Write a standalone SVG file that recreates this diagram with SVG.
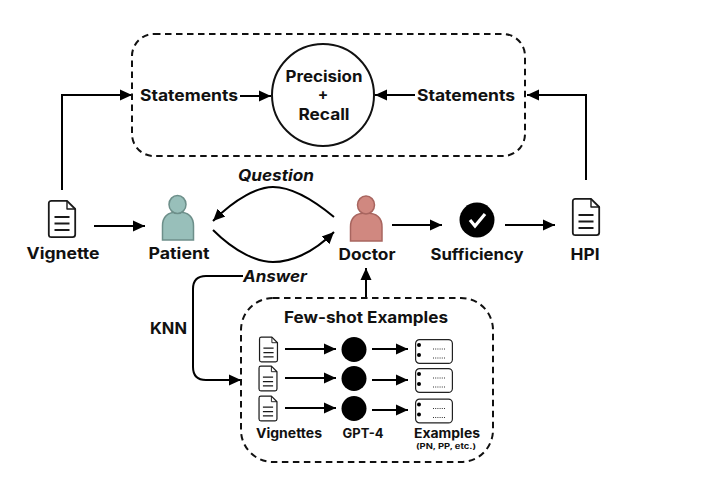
<svg xmlns="http://www.w3.org/2000/svg" width="703" height="477" viewBox="0 0 703 477">
<style>
text{font-family:"Inter","Noto Sans","Liberation Sans",sans-serif;font-weight:700;fill:#111;text-anchor:middle}
.l{font-size:15.500px}.i{font-style:italic;font-size:15.500px}.s{font-size:13px}
.c{fill:none;stroke:#000;stroke-width:2;}
.a{marker-end:url(#ah)}
.dash{fill:none;stroke:#111;stroke-width:2;stroke-dasharray:6.5 4.5}
.t{fill:#fff;stroke:#222;stroke-width:1.2}
.dot{stroke:#333;stroke-width:1;stroke-dasharray:1 1.2;fill:none}
</style>
<defs>
<marker id="ah" markerUnits="userSpaceOnUse" markerWidth="13" markerHeight="14" refX="12" refY="7" orient="auto"><path d="M0 1.500 L12 7 L0 12.500 Z" fill="#000"/></marker>
<symbol id="doc" viewBox="0 0 28 38" overflow="visible">
<path d="M3.500 .8 H19 L27.2 9 V34.5 Q27.2 37.2 24.500 37.2 H3.500 Q.8 37.2 .8 34.5 V3.500 Q.8 .8 3.500 .8 Z" fill="#fff" stroke="#1a1a1a" stroke-width="1.800" stroke-linejoin="round"/>
<path d="M19 .8 V9 H27.2" fill="none" stroke="#1a1a1a" stroke-width="1.400" stroke-linejoin="round"/>
<path d="M6.500 17 H21.500 M6.500 23.500 H21.500 M6.500 30 H21.500" stroke="#1a1a1a" stroke-width="1.800"/>
</symbol>
<symbol id="ex" viewBox="0 0 38 25" overflow="visible">
<rect x=".6" y=".6" width="36.8" height="23.8" rx="4" class="t"/>
<circle cx="4" cy="6" r="2" fill="#000"/><circle cx="4" cy="16" r="2" fill="#000"/>
<path d="M18 10 H30 M18 19 H30" class="dot"/>
</symbol>
</defs>
<rect width="703" height="477" fill="#fff"/>

<g id="connectors">
<path class="c a" d="M62 190 V95 H132"/>
<path class="c a" d="M586 180 V95 H527"/>
<path class="c a" d="M240 96 H271"/>
<path class="c a" d="M415 95 H375"/>
<path class="c a" d="M94 226 H145"/>
<path class="c a" d="M392 225 H442"/>
<path class="c a" d="M505 225 H555"/>
<path class="c a" d="M334 217 C305 193 285 187 273 187 C258 187 236 198 213 221"/>
<path class="c a" d="M213 230 C236 253 258 262 273 262 C290 262 312 254 334 232"/>
<path class="c a" d="M366 297 V268"/>
<path class="c a" d="M243 276 H206 Q193 276 193 289 V367 Q193 380 206 380 H241"/>
<path class="c a" d="M285 349 H336"/>
<path class="c a" d="M285 378 H336"/>
<path class="c a" d="M285 408 H336"/>
<path class="c a" d="M372 349 H408"/>
<path class="c a" d="M372 380 H408"/>
<path class="c a" d="M372 410 H408"/>
</g>

<g id="metrics-box"><rect x="132" y="34" width="393" height="122" rx="22" class="dash"/></g>
<g id="precision-recall">
<circle cx="323" cy="95" r="51" fill="#fff" stroke="#111" stroke-width="2"/>
<text x="324" y="82" class="l" textLength="77" lengthAdjust="spacingAndGlyphs">Precision</text>
<text x="323" y="100" class="l">+</text>
<text x="324" y="120" class="l" textLength="51" lengthAdjust="spacingAndGlyphs">Recall</text>
</g>
<g id="statements-left"><text x="189" y="101" class="l" textLength="98" lengthAdjust="spacingAndGlyphs">Statements</text></g>
<g id="statements-right"><text x="466" y="101" class="l" textLength="98" lengthAdjust="spacingAndGlyphs">Statements</text></g>

<g id="vignette"><use href="#doc" x="48" y="200" width="28" height="38"/>
<text x="63" y="259" class="l" textLength="73" lengthAdjust="spacingAndGlyphs">Vignette</text></g>

<g id="patient">
<path d="M162.500 240 V226 Q162.500 212 178 212 Q193.500 212 193.500 226 V240 Z" fill="#98bfba" stroke="#6d8f8a" stroke-width="1.500"/>
<ellipse cx="177.500" cy="204.500" rx="8.500" ry="9" fill="#98bfba" stroke="#6d8f8a" stroke-width="1.500"/>
<text x="179" y="259" class="l" textLength="61" lengthAdjust="spacingAndGlyphs">Patient</text></g>

<g id="doctor">
<path d="M350.500 241 V227 Q350.500 213 366 213 Q382 213 382 227 V241 Z" fill="#d08880" stroke="#a8655f" stroke-width="1.500"/>
<ellipse cx="366" cy="205" rx="8.500" ry="9" fill="#d08880" stroke="#a8655f" stroke-width="1.500"/>
<text x="367" y="260" class="l" textLength="57" lengthAdjust="spacingAndGlyphs">Doctor</text></g>

<g id="sufficiency">
<circle cx="477" cy="220" r="17.500" fill="#000"/>
<path d="M470 220 L475 226 L485 214" fill="none" stroke="#fff" stroke-width="3.200"/>
<text x="477" y="260" class="l" textLength="93" lengthAdjust="spacingAndGlyphs">Sufficiency</text></g>

<g id="hpi"><use href="#doc" x="572" y="198" width="28" height="38"/>
<text x="585" y="260" class="l" textLength="29" lengthAdjust="spacingAndGlyphs">HPI</text></g>

<g id="question-label"><text x="276" y="181" class="i" textLength="76" lengthAdjust="spacingAndGlyphs">Question</text></g>
<g id="answer-label"><text x="275" y="282" class="i" textLength="64" lengthAdjust="spacingAndGlyphs">Answer</text></g>
<g id="knn-label"><text x="168.500" y="334" class="l" textLength="37" lengthAdjust="spacingAndGlyphs">KNN</text></g>

<g id="few-shot">
<rect x="241" y="298" width="252" height="164" rx="32" class="dash"/>
<text x="366" y="323" class="l" textLength="164" lengthAdjust="spacingAndGlyphs">Few-shot Examples</text>
<use href="#doc" x="259" y="336.500" width="19" height="26"/>
<use href="#doc" x="258.500" y="365.500" width="19" height="26"/>
<use href="#doc" x="258.500" y="395" width="19" height="27"/>
<circle cx="354" cy="349.500" r="12.500" fill="#000"/>
<circle cx="354" cy="378.500" r="12.500" fill="#000"/>
<circle cx="354" cy="408.500" r="12.500" fill="#000"/>
<use href="#ex" x="415" y="339" width="38" height="25"/>
<use href="#ex" x="415" y="368" width="38" height="25"/>
<use href="#ex" x="415" y="398.500" width="38" height="25"/>
<text x="289" y="438" class="s" textLength="66" lengthAdjust="spacingAndGlyphs">Vignettes</text>
<text x="363" y="438" class="s" textLength="41" lengthAdjust="spacingAndGlyphs">GPT-4</text>
<text x="447" y="438" class="s" textLength="66" lengthAdjust="spacingAndGlyphs">Examples</text>
<text x="446" y="449" style="font-size:7.500px" textLength="60" lengthAdjust="spacingAndGlyphs">(PN, PP, etc.)</text>
</g>
</svg>
